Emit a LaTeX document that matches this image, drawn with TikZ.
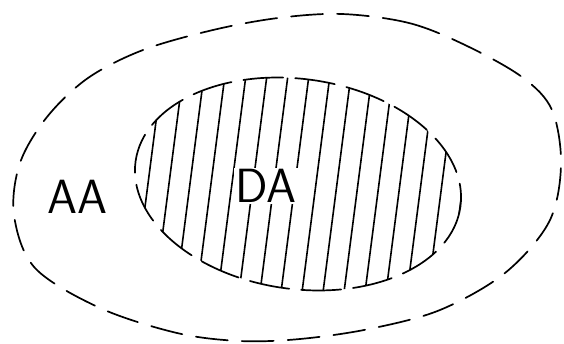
\documentclass[tikz,border=0pt]{standalone}
\usepackage{tikz}
\usetikzlibrary{positioning}
\tikzset{outerline/.style={line width=1.7pt,dash pattern=on 32pt off 14pt,line cap=round},innerline/.style={line width=1.7pt,dash pattern=on 40pt off 12pt,line cap=round},hatchline/.style={line width=1.6pt,line cap=round},lab/.style={font=\sffamily\fontsize{48}{48}\selectfont,inner sep=1pt}}
\begin{document}
\begin{tikzpicture}[x=1pt,y=-1pt]
\useasboundingbox (0,0) rectangle (564,343);
% outer region
\draw[outerline] plot[smooth cycle,tension=0.55] coordinates {(342,14) (409,23) (465,45) (522,77) (552,110) (561,165) (549,222) (505,273) (440,310) (369,329) (300,339) (240,341) (177,333) (100,308) (35,268) (14,215) (20,163) (47,117) (88,78) (143,50) (213,30) (278,18)};
% hatched inner region
\coordinate (mid) at (298,184);
\begin{scope}
\clip[rotate around={-8:(mid)}] (mid) ellipse [x radius=164,y radius=105];
\foreach \x in {112,133,...,470}
  \draw[hatchline] (\x,300) -- (\x+29,75);
\end{scope}
\draw[innerline,rotate around={-8:(mid)}] (mid) ellipse [x radius=164,y radius=105];
\node[lab] (aa) at (77,197) {AA};
\node[lab,fill=white] (da) at (266,186) {DA};
\end{tikzpicture}
\end{document}
